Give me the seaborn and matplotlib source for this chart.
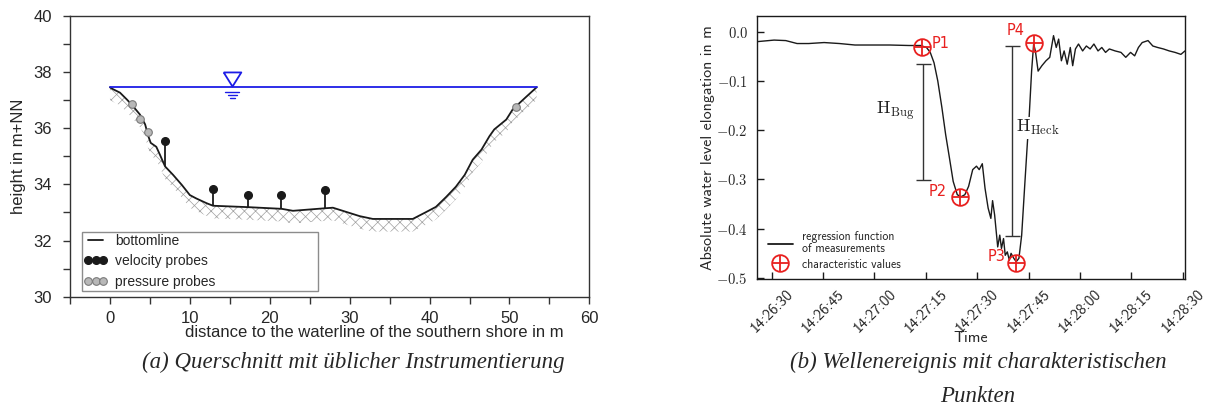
import numpy as np
import pandas as pd
import seaborn as sns
import matplotlib.pyplot as plt
from matplotlib.lines import Line2D
from matplotlib.legend_handler import HandlerTuple
from matplotlib.ticker import MultipleLocator, FuncFormatter

# ---------------- (a) cross section data ----------------
dist = [0, 0.4, 1.25, 2.1, 2.7, 3.75, 4.4, 4.8, 5.1, 5.8, 6.25, 6.9, 7.9, 9.0, 10.0,
        10.8, 12.1, 12.9, 17.3, 21.5, 22.9, 26.9, 27.9, 31.25, 32.9, 37.9, 39.6, 40.8,
        42.1, 43.3, 44.4, 45.4, 46.5, 47.5, 48.1, 49.6, 50.4, 51.9, 53.4]
bottom = [37.46, 37.39, 37.27, 37.03, 36.85, 36.49, 36.14, 35.72, 35.48, 35.34, 35.06,
          34.64, 34.34, 33.98, 33.62, 33.50, 33.33, 33.24, 33.19, 33.13, 33.06, 33.15,
          33.17, 32.87, 32.77, 32.77, 33.02, 33.20, 33.56, 33.92, 34.34, 34.88, 35.24,
          35.72, 35.96, 36.31, 36.67, 37.07, 37.46]
vel_x = [6.9, 12.9, 17.3, 21.4, 26.9]
vel_y = [35.54, 33.85, 33.62, 33.61, 33.80]
pres_x = [2.7, 3.8, 4.7, 50.8]
pres_y = [36.85, 36.34, 35.86, 36.76]
water_level = 37.46
water_sym_x = 15.3

# ---------------- (b) wave event data ----------------
t_sec = [-4.0, 0.7, 4.1, 7.4, 10.8, 15.3, 19.8, 24.3, 28.8, 34.5, 40.1, 43.5, 45.2, 46.3,
         47.4, 48.5, 49.7, 50.8, 51.9, 53.0, 54.2, 55.3, 56.4, 57.5, 58.7, 59.8, 60.6,
         61.5, 62.3, 63.2, 64.0, 64.5, 65.1, 66.0, 66.6, 67.1, 67.7, 68.2, 68.8, 69.4,
         69.9, 70.7, 71.4, 72.2, 73.0, 73.9, 74.7, 75.2, 75.9, 76.5, 77.0, 77.8, 78.9,
         80.1, 81.2, 82.3, 83.1, 83.8, 84.6, 85.4, 86.3, 87.2, 87.9, 88.7, 89.6, 90.8,
         91.9, 93.0, 94.1, 95.3, 96.4, 97.5, 98.6, 100.3, 102.0, 103.4, 104.8, 106.0,
         107.1, 108.2, 109.9, 111.3, 112.7, 114.4, 116.1, 117.8, 119.5, 120.7]
elong = [-0.020, -0.017, -0.018, -0.024, -0.024, -0.022, -0.024, -0.027, -0.027, -0.027,
         -0.028, -0.028, -0.032, -0.042, -0.063, -0.100, -0.154, -0.209, -0.256, -0.304,
         -0.331, -0.335, -0.331, -0.314, -0.280, -0.273, -0.280, -0.268, -0.318, -0.358,
         -0.379, -0.343, -0.372, -0.437, -0.413, -0.440, -0.420, -0.454, -0.447, -0.464,
         -0.450, -0.460, -0.467, -0.460, -0.413, -0.311, -0.222, -0.171, -0.080, -0.025,
         -0.039, -0.080, -0.069, -0.059, -0.052, -0.008, -0.032, -0.015, -0.059, -0.039,
         -0.066, -0.032, -0.069, -0.035, -0.025, -0.039, -0.029, -0.035, -0.025, -0.039,
         -0.032, -0.042, -0.035, -0.039, -0.042, -0.052, -0.042, -0.049, -0.032, -0.022,
         -0.018, -0.029, -0.032, -0.035, -0.039, -0.042, -0.046, -0.039]
char_t = [44.0, 55.1, 71.4, 76.7]
char_v = [-0.032, -0.336, -0.469, -0.022]
char_names = ['P1', 'P2', 'P3', 'P4']
h_bug = (44.1, -0.066, -0.301)
h_heck = (70.3, -0.029, -0.415)
clock_start = 14 * 3600 + 26 * 60 + 30

sns.set_theme(style='white')
plt.rcParams['font.family'] = ['Liberation Sans', 'DejaVu Sans']
plt.rcParams['mathtext.fontset'] = 'cm'
plt.rcParams['hatch.linewidth'] = 0.5

fig = plt.figure(figsize=(12.05, 4.2), dpi=100)
ax1 = fig.add_axes([0.0581, 0.2936, 0.4310, 0.6683])
ax2 = fig.add_axes([0.6285, 0.3364, 0.3549, 0.6262])

# ---------- panel (a) ----------
blue = '#1c1ce6'
ax1.fill_between(dist, bottom, np.array(bottom) - 0.45, facecolor='white',
                 edgecolor='#a0a0a0', hatch='xxx', linewidth=0, zorder=1)
sns.lineplot(x=dist, y=bottom, ax=ax1, color='k', lw=1.3, sort=False, zorder=3)
ax1.plot([dist[0], dist[-1]], [water_level, water_level], color=blue, lw=1.3, zorder=3)
tri = [(-1, 0.8), (1, 0.8), (0, -0.8), (-1, 0.8)]
ax1.plot([water_sym_x], [water_level + 0.28], marker=tri, ms=12.7, mfc='white',
         mec=blue, mew=1.3, ls='none', zorder=4)
for dy, half in [(0.16, 0.85), (0.28, 0.55), (0.38, 0.3)]:
    ax1.plot([water_sym_x - half, water_sym_x + half], [water_level - dy] * 2,
             color=blue, lw=1.0)
ax1.vlines(vel_x, np.interp(vel_x, dist, bottom), vel_y, color='k', lw=1.3, zorder=3)
ax1.plot(vel_x, vel_y, 'o', ms=5.5, color='#1a1a1a', zorder=5)
ax1.plot(pres_x, pres_y, 'o', ms=5.5, mfc='#b8b8b8', mec='#7a7a7a', mew=0.8, zorder=5)

ax1.set_xlim(-5, 60)
ax1.set_ylim(30, 40)
ax1.xaxis.set_major_locator(MultipleLocator(10))
ax1.xaxis.set_minor_locator(MultipleLocator(5))
ax1.yaxis.set_major_locator(MultipleLocator(2))
ax1.yaxis.set_minor_locator(MultipleLocator(1))
ax1.tick_params(which='both', direction='out', length=5, width=1, color='#333333',
                left=True, bottom=True, labelsize=12)
ax1.tick_params(axis='x', which='both', pad=5.5)
ax1.tick_params(axis='y', which='both', pad=8)
for s in ax1.spines.values():
    s.set_color('#333333')
    s.set_linewidth(1)
ax1.set_xlabel('distance to the waterline of the southern shore in m', fontsize=12)
ax1.xaxis.set_label_coords(0.585, -0.1)
ax1.set_ylabel('height in m+NN', fontsize=12)
ax1.yaxis.set_label_coords(-0.085, 0.5)

h1 = [Line2D([], [], color='k', lw=1.3),
      Line2D([], [], ls='none', marker='o', ms=5.5, color='#1a1a1a'),
      Line2D([], [], ls='none', marker='o', ms=5.5, mfc='#b8b8b8', mec='#7a7a7a', mew=0.8)]
leg1 = ax1.legend(h1, ['bottomline', 'velocity probes', 'pressure probes'],
                  loc='lower left', bbox_to_anchor=(0.0231, 0.0214, 0.455, 0.228),
                  mode='expand', borderaxespad=0, numpoints=3, handlelength=1.65,
                  handletextpad=0.6, fontsize=10, frameon=True, fancybox=False,
                  edgecolor='#8c8c8c', framealpha=1, borderpad=0.15, labelspacing=0.45)
leg1.get_frame().set_linewidth(1)

# ---------- panel (b) ----------
red = '#e8201f'
sns.lineplot(x=t_sec, y=elong, ax=ax2, color='k', lw=1.0, sort=False, zorder=2)
for (x, y0, y1) in [h_bug, h_heck]:
    ax2.errorbar([x], [(y0 + y1) / 2], yerr=[abs(y1 - y0) / 2], color='#333333',
                 lw=1, capsize=5.4, capthick=1, zorder=2)
ax2.plot(char_t, char_v, 'o', ms=12, mfc='none', mec=red, mew=1.3, zorder=5)
ax2.plot(char_t, char_v, '+', ms=12, mec=red, mew=1.3, zorder=5)

ax2.text(46.8, -0.023, char_names[0], color=red, fontsize=10.5, family='DejaVu Sans',
         ha='left', va='center')
ax2.text(51.0, -0.324, char_names[1], color=red, fontsize=10.5, family='DejaVu Sans',
         ha='right', va='center')
ax2.text(68.2, -0.457, char_names[2], color=red, fontsize=10.5, family='DejaVu Sans',
         ha='right', va='center')
ax2.text(71.3, 0.002, char_names[3], color=red, fontsize=10.5, family='DejaVu Sans',
         ha='center', va='center')
ax2.text(41.8, -0.161, r'$\mathrm{H}_{\mathrm{Bug}}$', fontsize=13, ha='right',
         va='center', color='#222222')
ax2.text(71.4, -0.195, r'$\mathrm{H}_{\mathrm{Heck}}$', fontsize=13, ha='left',
         va='center', color='#222222',
         bbox=dict(facecolor='white', edgecolor='none', pad=1))

ax2.set_xlim(-4.2, 120.7)
ax2.set_ylim(-0.5015, 0.0325)
ax2.xaxis.set_major_locator(MultipleLocator(15))
ax2.yaxis.set_major_locator(MultipleLocator(0.1))


def clock(v, pos):
    s = int(round(clock_start + v))
    return '%02d:%02d:%02d' % (s // 3600, (s % 3600) // 60, s % 60)


ax2.xaxis.set_major_formatter(FuncFormatter(clock))
ax2.yaxis.set_major_formatter(FuncFormatter(lambda v, p: r'$%.1f$' % v))
ax2.tick_params(direction='in', length=5, width=1, color='k', left=True, bottom=True)
ax2.tick_params(axis='y', labelsize=10.5, pad=7)
ax2.tick_params(axis='x', labelsize=11, pad=6)
for lab in ax2.get_xticklabels():
    lab.set_rotation(45)
    lab.set_family('cmss10')
for s in ax2.spines.values():
    s.set_color('k')
    s.set_linewidth(1)
ax2.set_xlabel('Time', fontsize=11.5, family='cmss10')
ax2.xaxis.set_label_coords(0.5, -0.2)
ax2.set_ylabel('Absolute water level elongation in m', fontsize=11.5, family='cmss10')
ax2.yaxis.set_label_coords(-0.1, 0.5)

h2 = [Line2D([], [], color='k', lw=1.3),
      (Line2D([], [], ls='none', marker='o', ms=12, mfc='none', mec=red, mew=1.3),
       Line2D([], [], ls='none', marker='+', ms=12, mec=red, mew=1.3))]
leg2 = ax2.legend(h2, ['regression function\nof measurements', 'characteristic values'],
                  handler_map={tuple: HandlerTuple(ndivide=1)}, loc='lower left',
                  bbox_to_anchor=(0.025, 0.031), borderaxespad=0, borderpad=0,
                  frameon=False, numpoints=1, handlelength=2.1, handletextpad=0.74,
                  labelspacing=0.3, prop={'family': 'cmss10', 'size': 8.5})
for txt in leg2.get_texts():
    txt.set_linespacing(0.95)

# ---------- captions ----------
cap = dict(family='Liberation Serif', style='italic', fontsize=16.5, ha='center',
           va='center')
fig.text(353 / 1205, 1 - 362 / 420, '(a) Querschnitt mit üblicher Instrumentierung', **cap)
fig.text(978 / 1205, 1 - 362 / 420, '(b) Wellenereignis mit charakteristischen', **cap)
fig.text(978 / 1205, 1 - 397 / 420, 'Punkten', **cap)

fig.savefig('out.png', dpi=100, facecolor='white')
